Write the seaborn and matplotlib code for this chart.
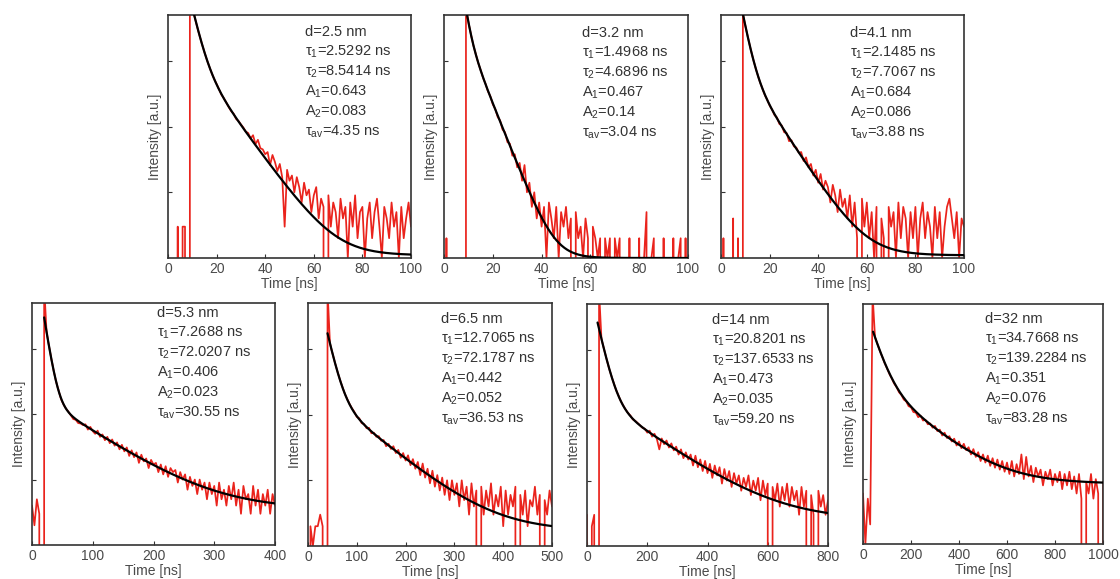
import numpy as np
import pandas as pd
import matplotlib
matplotlib.use("Agg")
import matplotlib.pyplot as plt
from matplotlib.ticker import FixedLocator, NullFormatter, NullLocator, MultipleLocator
import seaborn as sns

sns.set_theme(style="white")
plt.rcParams["font.family"] = ["Liberation Sans", "DejaVu Sans"]
plt.rcParams["mathtext.fontset"] = "custom"
plt.rcParams["mathtext.rm"] = "Liberation Sans"
plt.rcParams["mathtext.it"] = "Liberation Sans:italic"
plt.rcParams["mathtext.bf"] = "Liberation Sans:bold"

# ---- samples and bi-exponential fit parameters -------------------------
diameters = ["2.5", "3.2", "4.1", "5.3", "6.5", "14", "32"]
tau1 = [2.5292, 1.4968, 2.1485, 7.2688, 12.7065, 20.8201, 34.7668]
tau2 = [8.5414, 4.6896, 7.7067, 72.0207, 72.1787, 137.6533, 139.2284]
amp1 = [0.643, 0.467, 0.684, 0.406, 0.442, 0.473, 0.351]
amp2 = [0.083, 0.14, 0.086, 0.023, 0.052, 0.035, 0.076]
tau_av = [4.35, 3.04, 3.88, 30.55, 36.53, 59.20, 83.28]

# fit onset (ns), count scale and constant background of each fitted curve
fit_onset = [8.5, 7.5, 8.0, 20.0, 40.0, 35.0, 42.0]
fit_scale = [15400, 23000, 10300, 7000, 3500, 5120, 4360]
fit_background = [1.1, 1.0, 1.1, 3.5, 1.7, 2.5, 8.5]

# time window, tick step and histogram bin width (ns)
time_max = [100, 100, 100, 400, 500, 800, 1000]
tick_step = [20, 20, 20, 100, 100, 200, 200]
bin_width = [1, 1, 1, 4, 5, 8, 10]

# ---- photon counts per time bin ----------------------------------------
counts_2_5nm = [
    0, 0, 0, 0, 3, 0, 3, 3, 0, 9300,
    6500, 4600, 3300, 2420, 1800, 1360, 1040, 820, 650, 530,
    445, 370, 305, 270, 232, 198, 172, 158, 131, 122,
    108, 97, 84, 80, 66, 74, 54, 63, 47, 45,
    38, 41, 26, 37, 29, 21, 27, 17, 3, 22,
    15, 18, 10, 17, 12, 7, 14, 9, 11, 5,
    9, 12, 4, 8, 6, 0, 9, 3, 7, 5,
    2, 8, 4, 6, 1, 7, 3, 9, 2, 5,
    6, 1, 4, 7, 2, 5, 8, 3, 1, 6,
    4, 2, 7, 3, 5, 1, 6, 2, 4, 7,
    3]
counts_3_2nm = [
    0, 2, 0, 0, 0, 0, 0, 0, 0, 6300,
    3900, 2570, 1750, 1280, 940, 730, 555, 450, 345, 290,
    218, 186, 140, 124, 90, 82, 58, 55, 36, 38,
    24, 28, 15, 26, 10, 14, 6, 10, 4, 7,
    3, 6, 1, 7, 4, 2, 6, 1, 5, 3,
    6, 2, 4, 0, 5, 2, 3, 1, 4, 2,
    0, 3, 2, 1, 2, 0, 2, 1, 2, 0,
    2, 1, 2, 0, 1, 0, 2, 0, 1, 0,
    2, 0, 1, 5, 0, 1, 2, 0, 1, 0,
    2, 0, 1, 0, 2, 0, 1, 2, 0, 2,
    0]
counts_4_1nm = [
    0, 2, 0, 0, 0, 4, 0, 2, 0, 5200,
    3450, 2350, 1620, 1150, 840, 630, 480, 385, 305, 258,
    210, 182, 150, 138, 110, 104, 82, 80, 60, 62,
    50, 48, 40, 41, 30, 34, 24, 27, 18, 22,
    14, 19, 11, 15, 12, 7, 13, 9, 5, 11,
    6, 8, 4, 9, 3, 7, 2, 0, 8, 3,
    7, 2, 5, 1, 6, 0, 4, 2, 0, 6,
    3, 5, 1, 7, 2, 6, 4, 1, 5, 2,
    6, 1, 4, 7, 2, 5, 3, 1, 6, 2,
    5, 1, 3, 6, 8, 4, 2, 5, 1, 4,
    3]
counts_5_3nm = [
    4, 2, 5, 3, 0, 9000, 1795, 1095, 690, 445,
    305, 226, 168, 140, 121, 109, 96, 84, 82, 73,
    72, 68, 70, 58, 64, 55, 50, 56, 45, 49,
    40, 45, 36, 41, 33, 37, 29, 34, 27, 31,
    23, 28, 22, 26, 18, 24, 19, 21, 15, 20,
    17, 18, 13, 17, 12, 16, 11, 15, 13, 14,
    9, 13, 10, 12, 7, 11, 8, 10, 6, 10,
    7, 9, 5, 9, 6, 8, 4, 9, 5, 7,
    4, 8, 5, 9, 4, 7, 3, 8, 5, 6,
    3, 8, 4, 7, 3, 6, 4, 7, 3, 6,
    4]
counts_6_5nm = [
    0, 2, 1, 2, 2, 3, 2, 0, 8000, 1215,
    865, 625, 462, 348, 270, 212, 175, 146, 125, 110,
    92, 88, 74, 72, 62, 63, 52, 53, 46, 47,
    40, 41, 33, 36, 30, 33, 26, 29, 22, 26,
    20, 24, 17, 21, 15, 19, 12, 18, 11, 15,
    9, 14, 8, 12, 7, 11, 6, 10, 5, 10,
    6, 9, 4, 10, 5, 8, 3, 9, 4, 7,
    0, 8, 3, 7, 4, 9, 3, 6, 4, 8,
    2, 7, 3, 6, 4, 8, 0, 6, 3, 7,
    2, 5, 4, 8, 3, 6, 0, 5, 3, 7,
    4]
counts_14nm = [
    3, 0, 2, 3, 0, 8000, 1465, 1040, 750, 545,
    410, 318, 246, 202, 165, 141, 122, 108, 99, 86,
    82, 76, 70, 64, 62, 54, 58, 47, 52, 43,
    30, 44, 36, 41, 32, 37, 29, 33, 25, 30,
    22, 27, 21, 25, 17, 24, 16, 21, 14, 20,
    13, 18, 11, 17, 12, 16, 9, 15, 10, 14,
    8, 13, 9, 12, 7, 11, 8, 12, 6, 10,
    7, 11, 5, 10, 6, 9, 0, 8, 5, 9,
    4, 8, 5, 9, 4, 8, 5, 7, 3, 8,
    4, 7, 0, 6, 3, 0, 7, 4, 6, 3,
    5]
counts_32nm = [
    6, 1, 5, 2, 7000, 1540, 1210, 950, 770, 615,
    512, 418, 356, 296, 262, 218, 198, 168, 158, 133,
    128, 108, 106, 90, 95, 80, 82, 70, 72, 62,
    66, 55, 58, 47, 52, 43, 46, 38, 42, 33,
    38, 30, 35, 28, 31, 24, 29, 22, 26, 19,
    24, 18, 23, 16, 21, 15, 20, 14, 19, 13,
    18, 12, 19, 11, 17, 12, 24, 10, 22, 11,
    16, 9, 15, 11, 14, 8, 13, 10, 14, 8,
    12, 9, 13, 7, 12, 8, 13, 7, 11, 6,
    12, 5, 0, 9, 6, 12, 5, 10, 6, 0,
    9]

all_counts = [counts_2_5nm, counts_3_2nm, counts_4_1nm, counts_5_3nm,
              counts_6_5nm, counts_14nm, counts_32nm]

# ---- layout (pixel boxes: left, top, right, bottom) ---------------------
W, H = 1120, 579
boxes = [(168, 15, 411, 258), (444, 15, 688, 258), (721, 15, 964, 258),
         (32, 303, 275, 545), (308, 303, 552, 546), (587, 304, 828, 546),
         (863, 304, 1103, 544)]
text_x = [0.564, 0.566, 0.53, 0.514, 0.545, 0.52, 0.508]
text_top_px = [17, 18, 18, 10, 16, 16, 15]

RED = "#ea231c"
FRAME = "#333333"
LABEL = "#4a4a4a"

fig = plt.figure(figsize=(W / 100, H / 100), dpi=100)
fig.patch.set_facecolor("white")

for i, (x0, y0, x1, y1) in enumerate(boxes):
    ax = fig.add_axes([x0 / W, 1 - y1 / H, (x1 - x0) / W, (y1 - y0) / H])

    t = np.arange(len(all_counts[i])) * bin_width[i]
    df = pd.DataFrame({"time": t, "counts": all_counts[i]})
    sns.lineplot(data=df, x="time", y="counts", ax=ax, color=RED,
                 linewidth=1.25, estimator=None, sort=False, zorder=2)

    tf = np.linspace(fit_onset[i], time_max[i], 600)
    dt = tf - fit_onset[i]
    fit = fit_scale[i] * (amp1[i] * np.exp(-dt / tau1[i])
                          + amp2[i] * np.exp(-dt / tau2[i])) + fit_background[i]
    sns.lineplot(x=tf, y=fit, ax=ax, color="black", linewidth=1.6,
                 estimator=None, sort=False, zorder=3)

    ax.set_yscale("log")
    ax.set_ylim(1, 5000)
    ax.set_xlim(0, time_max[i])

    ax.yaxis.set_major_locator(FixedLocator([10, 100, 1000]))
    ax.yaxis.set_major_formatter(NullFormatter())
    ax.yaxis.set_minor_locator(NullLocator())
    ax.xaxis.set_major_locator(MultipleLocator(tick_step[i]))
    ax.tick_params(axis="both", which="major", direction="in", length=3,
                   width=0.8, color=FRAME, labelcolor=LABEL, labelsize=10,
                   pad=3, bottom=True, left=True, top=False, right=False)

    for sp in ax.spines.values():
        sp.set_visible(True)
        sp.set_color(FRAME)
        sp.set_linewidth(1.2)

    ax.set_xlabel("Time [ns]", fontsize=10, color=LABEL, labelpad=0.5)
    ax.set_ylabel("Intensity [a.u.]", fontsize=10, color=LABEL, labelpad=1.5)

    lines = [
        f"d={diameters[i]} nm",
        rf"$\mathrm{{\tau_1}}$={tau1[i]:.4f} ns",
        rf"$\mathrm{{\tau_2}}$={tau2[i]:.4f} ns",
        rf"$\mathrm{{A_1}}$={amp1[i]:g}",
        rf"$\mathrm{{A_2}}$={amp2[i]:g}",
        rf"$\mathrm{{\tau_{{av}}}}$={tau_av[i]:.2f} ns",
    ]
    for k, line in enumerate(lines):
        ax.annotate(line, xy=(text_x[i], 1), xycoords="axes fraction",
                    xytext=(0, -(text_top_px[i] + 20 * k) * 0.72),
                    textcoords="offset points", ha="left", va="center",
                    fontsize=10.5, color="#333333")

fig.savefig("out.png", dpi=100, facecolor="white")
